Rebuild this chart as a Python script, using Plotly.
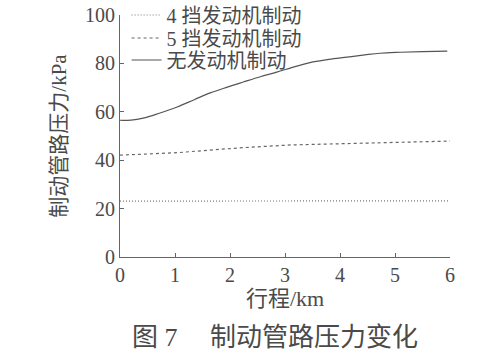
import plotly.graph_objects as go

# Data
x_km = [0, 0.2, 0.42, 0.7, 1.04, 1.35, 1.64, 1.95, 2.24, 2.55, 2.85, 3.2, 3.51, 3.8, 4.13, 4.45, 4.73, 5.1, 5.5, 5.95]
no_engine = [56.5, 56.6, 57.4, 59.3, 62.0, 65.0, 67.8, 70.2, 72.3, 74.5, 76.4, 78.8, 80.6, 81.7, 82.6, 83.5, 84.2, 84.6, 84.9, 85.1]

x5 = [0, 0.5, 1.04, 1.64, 2.24, 3.1, 3.9, 4.73, 5.4, 6.0]
gear5 = [42.1, 42.5, 43.1, 44.2, 45.2, 46.3, 46.8, 47.2, 47.6, 47.9]

x4 = [0, 1, 2, 3, 4, 5, 6]
gear4 = [23.1, 23.1, 23.1, 23.1, 23.2, 23.2, 23.2]

names = ["4 挡发动机制动", "5 挡发动机制动", "无发动机制动"]
x_ticks = [0, 1, 2, 3, 4, 5, 6]
y_ticks = [0, 20, 40, 60, 80, 100]

font_family = "Liberation Serif, Noto Sans CJK SC"
ink = "#4a4a4a"

fig = go.Figure()
fig.add_trace(go.Scatter(x=x4, y=gear4, mode="lines", name=names[0], legend="legend",
                         line=dict(color="#777", width=1.2, dash="1px,2px")))
fig.add_trace(go.Scatter(x=x5, y=gear5, mode="lines", name=names[1], legend="legend2",
                         line=dict(color="#666", width=1.2, dash="3px,3px")))
fig.add_trace(go.Scatter(x=x_km, y=no_engine, mode="lines", name=names[2], legend="legend3",
                         line=dict(color="#555", width=1.2, shape="spline")))

leg_common = dict(x=0.02, xanchor="left", yanchor="middle",
                  bgcolor="rgba(0,0,0,0)", font=dict(size=20, color=ink),
                  itemwidth=30)

fig.update_layout(
    width=500, height=360,
    margin=dict(l=120, r=50, t=15, b=103, autoexpand=False),
    paper_bgcolor="white", plot_bgcolor="white",
    font=dict(family=font_family, size=20, color=ink),
    showlegend=True,
    legend=dict(y=1.0, **leg_common),
    legend2=dict(y=0.905, **leg_common),
    legend3=dict(y=0.814, **leg_common),
    xaxis=dict(range=[0, 6], tickvals=x_ticks, ticks="inside", ticklen=4,
               tickcolor="#666", showline=True, linecolor="#666", linewidth=1,
               showgrid=False, zeroline=False, automargin=False,
               ticklabeloverflow="allow",
               tickfont=dict(size=20),
               title=dict(text="行程/km", standoff=5, font=dict(size=22))),
    yaxis=dict(range=[0, 100], tickvals=y_ticks, ticks="inside", ticklen=4,
               tickcolor="#666", showline=True, linecolor="#666", linewidth=1,
               showgrid=False, zeroline=False, automargin=False,
               ticklabeloverflow="allow",
               tickfont=dict(size=20),
               title=dict(text="制动管路压力/kPa", standoff=12, font=dict(size=21))),
)

fig.add_annotation(text="图 7　 制动管路压力变化", xref="paper", yref="paper",
                   x=0.47, y=-0.332, xanchor="center", yanchor="middle",
                   showarrow=False, font=dict(size=26, color=ink))

fig.write_html("out.html", config={"displayModeBar": False},
               post_script="document.body.style.margin='0';")
